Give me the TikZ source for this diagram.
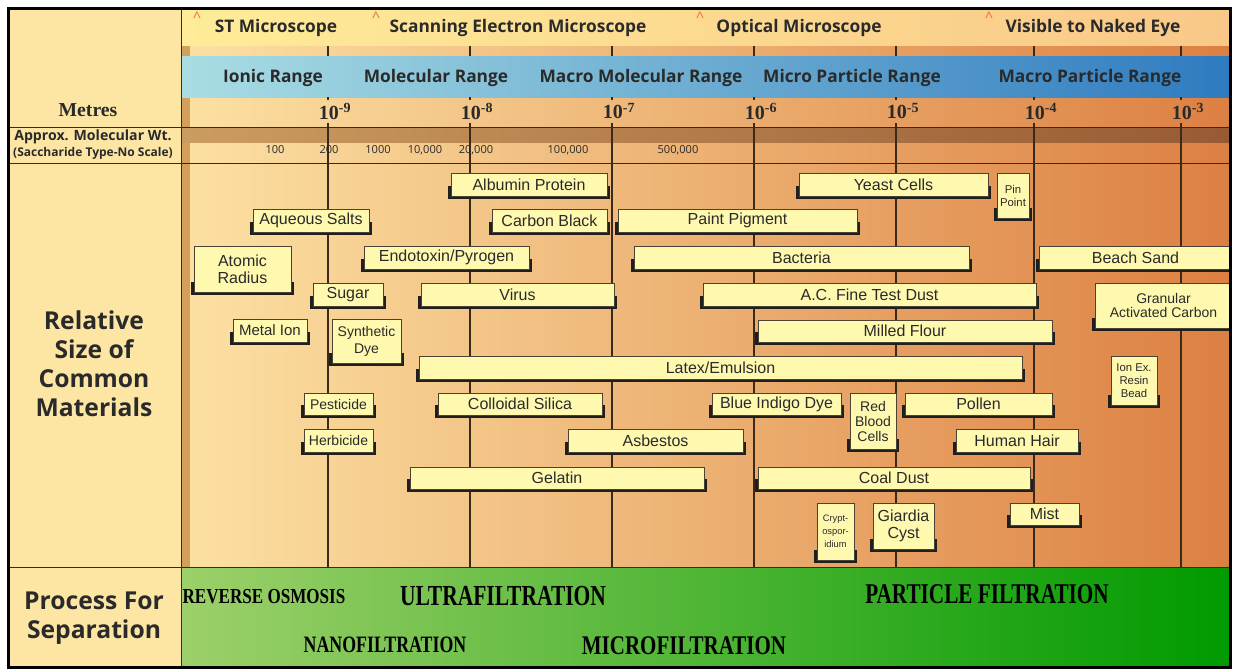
\documentclass[tikz,border=0pt]{standalone}
\usepackage{fontspec}
\setmainfont{Liberation Sans}
\newfontfamily\gill{Open Sans}
\newfontfamily\tms{Liberation Serif}
\definecolor{colbg}{HTML}{FDE6A3}
\definecolor{hdrL}{HTML}{FEEC98}
\definecolor{hdrR}{HTML}{F9C888}
\definecolor{tanL}{HTML}{FCE1A3}
\definecolor{tanM}{HTML}{F1BC7E}
\definecolor{tanR}{HTML}{DC8042}
\definecolor{strip}{HTML}{D2A05C}
\definecolor{blueL}{HTML}{A9DDE3}
\definecolor{blueR}{HTML}{2F7BC0}
\definecolor{brnL}{HTML}{CB9C60}
\definecolor{brnR}{HTML}{985A34}
\definecolor{grnL}{HTML}{9DD06A}
\definecolor{grnM}{HTML}{48AE3C}
\definecolor{grnR}{HTML}{009A00}
\definecolor{boxfill}{HTML}{FFF9B0}
\definecolor{boxline}{HTML}{4A4232}
\definecolor{txt}{HTML}{2A2A2A}
\definecolor{tick}{HTML}{3A2A1A}
\definecolor{caret}{HTML}{E8703A}
\newcommand\fs[2]{\fontsize{#1}{#2}\selectfont}
\newcommand\matbox[7][\fs{12}{12.75}]{%
  \fill[shadowbox] ({#3-3},{#6-10}) rectangle ({#5+3},{#6+3});
  \node[matnode, font=#1, minimum width={(#5-#3)*0.75pt}, minimum height={(#6-#4)*0.75pt}] (#2) at ({(#3+#5)/2},{(#4+#6)/2}) {#7};
}
\begin{document}
\begin{tikzpicture}[x=0.75pt,y=-0.75pt,
  shadowbox/.style={fill=black!88},
  matnode/.style={draw=boxline, line width=0.6pt, fill=boxfill, inner sep=0pt, align=center, text=txt},
  hdrtext/.style={font=\gill\bfseries\fs{13}{14}, text=txt, inner sep=0pt},
  crt/.style={font=\gill\fs{11}{11}, text=caret, inner sep=0pt},
  expo/.style={font=\tms\bfseries\fs{15}{16}, text=txt, inner sep=0pt},
  molwt/.style={font=\gill\fs{8.3}{9}, text=txt, inner sep=0pt},
  sidelab/.style={font=\gill\bfseries\fs{18.5}{21.75}, text=txt, align=center, inner sep=0pt},
  proc/.style={font=\tms\bfseries, text=black, inner sep=0pt},
  rule/.style={draw=tick, line width=0.75pt},
  ticks/.style={draw=tick, line width=0.8pt}
]
\useasboundingbox (0,0) rectangle (1235,669);
% backgrounds
\fill[colbg] (8,8) rectangle (181,667);
\fill[left color=hdrL, right color=hdrR] (181,8) rectangle (1230,46);
\fill[left color=tanL, middle color=tanM, right color=tanR] (181,46) rectangle (1230,567);
\fill[strip] (181,46) rectangle (190,567);
\fill[left color=blueL, right color=blueR] (181,56) rectangle (1230,97);
\fill[left color=brnL, right color=brnR] (181,127) rectangle (1230,142);
\fill[left color=grnL, middle color=grnM, right color=grnR] (181,567) rectangle (1230,667);
% rules
\draw[rule] (8,127) -- (1230,127);
\draw[rule] (8,163) -- (1230,163);
\draw[rule] (8,567) -- (1230,567);
\draw[rule] (181,8) -- (181,667);
% decade ticks and labels
\foreach \x/\e in {328/9,470/8,612/7,754/6,896/5,1034/4,1181/3}{
  \draw[ticks] (\x,46) -- (\x,56);
  \draw[ticks] (\x,97) -- (\x,100);
  \draw[ticks] (\x,123) -- (\x,567);
  \node[expo] (e\e) at (\x+7,111) {10\textsuperscript{-\e}};
}
% microscope header
\node[crt] (c1) at (197,17) {\textasciicircum};
\node[crt] (c2) at (376,17) {\textasciicircum};
\node[crt] (c3) at (700,17) {\textasciicircum};
\node[crt] (c4) at (989,17) {\textasciicircum};
\node[hdrtext] (st) at (276,27.5) {ST Microscope};
\node[hdrtext] (sem) at (518,27.5) {Scanning Electron Microscope};
\node[hdrtext] (opt) at (799,27.5) {Optical Microscope};
\node[hdrtext] (eye) at (1093,27.5) {Visible to Naked Eye};
% ranges
\node[hdrtext] (r1) at (273,77.5) {Ionic Range};
\node[hdrtext] (r2) at (436,77.5) {Molecular Range};
\node[hdrtext] (r3) at (641,77.5) {Macro Molecular Range};
\node[hdrtext] (r4) at (852,77.5) {Micro Particle Range};
\node[hdrtext] (r5) at (1090,77.5) {Macro Particle Range};
% left column
\node[font=\tms\bfseries\fs{14.8}{15}, text=txt, inner sep=0pt] (metres) at (88,110) {Metres};
\node[font=\gill\bfseries\fs{10.6}{11}, text=txt, inner sep=0pt] (approx) at (93,137) {Approx. Molecular Wt.};
\node[font=\gill\bfseries\fs{9}{9}, text=txt, inner sep=0pt] (sacch) at (93,153) {(Saccharide Type-No Scale)};
\node[sidelab] (relsize) at (94,364) {Relative\\Size of\\Common\\Materials};
\node[sidelab] (process) at (94,618) {Process For\\Separation};
% molecular weights
\node[molwt] (m1) at (275,150) {100};
\node[molwt] (m2) at (329,150) {200};
\node[molwt] (m3) at (378,150) {1000};
\node[molwt] (m4) at (425,150) {10,000};
\node[molwt] (m5) at (476,150) {20,000};
\node[molwt] (m6) at (568,150) {100,000};
\node[molwt] (m7) at (678,150) {500,000};
% processes
\node[proc] (ro) at (264,597) {\scalebox{0.8}[1]{\fs{16}{16}REVERSE OSMOSIS}};
\node[proc] (uf) at (503,596) {\scalebox{0.74}[1]{\fs{21.8}{22}ULTRAFILTRATION}};
\node[proc] (pf) at (987,594) {\scalebox{0.74}[1]{\fs{21.5}{22}PARTICLE FILTRATION}};
\node[proc] (nf) at (385,645) {\scalebox{0.76}[1]{\fs{17.6}{18}NANOFILTRATION}};
\node[proc] (mf) at (684,646) {\scalebox{0.78}[1]{\fs{20.2}{21}MICROFILTRATION}};
% material boxes
\matbox{albumin}{451}{173}{607}{196}{Albumin Protein}
\matbox{yeast}{799}{173}{988}{196}{Yeast Cells}
\matbox[\fs{8.5}{9.75}]{pin}{997}{173}{1029}{218}{Pin\\Point}
\matbox{aqueous}{253}{209}{369}{232}{Aqueous Salts}
\matbox{carbon}{492}{209}{607}{232}{Carbon Black}
\matbox{paint}{618}{209}{857}{232}{Paint Pigment}
\matbox{atomic}{194}{246}{291}{292}{Atomic\\Radius}
\matbox{endo}{364}{246}{529}{269}{Endotoxin/Pyrogen}
\matbox{bacteria}{634}{246}{969}{269}{Bacteria}
\matbox{beach}{1039}{246}{1232}{269}{Beach Sand}
\matbox{sugar}{313}{283}{383}{306}{Sugar}
\matbox{virus}{421}{283}{614}{306}{Virus}
\matbox{acdust}{703}{283}{1036}{306}{A.C. Fine Test Dust}
\matbox[\fs{10.5}{10.5}]{gac}{1095}{283}{1232}{328}{Granular\\Activated Carbon}
\matbox[\fs{11.25}{12}]{metal}{233}{319}{307}{342}{Metal Ion}
\matbox[\fs{10.5}{12.75}]{synth}{332}{319}{401}{363}{Synthetic\\Dye}
\matbox{flour}{758}{320}{1052}{342}{Milled Flour}
\matbox{latex}{419}{356}{1022}{379}{Latex/Emulsion}
\matbox[\fs{8.5}{9.75}]{ionex}{1111}{356}{1157}{405}{Ion Ex.\\Resin\\Bead}
\matbox[\fs{10.5}{12}]{pest}{304}{393}{373}{415}{Pesticide}
\matbox{colloid}{438}{393}{602}{415}{Colloidal Silica}
\matbox{indigo}{712}{393}{841}{415}{Blue Indigo Dye}
\matbox[\fs{10.5}{11.25}]{rbc}{850}{393}{896}{449}{Red\\Blood\\Cells}
\matbox{pollen}{905}{393}{1052}{415}{Pollen}
\matbox[\fs{10.5}{12}]{herb}{304}{429}{373}{452}{Herbicide}
\matbox{asbestos}{568}{429}{743}{452}{Asbestos}
\matbox{hair}{956}{429}{1078}{452}{Human Hair}
\matbox{gelatin}{410}{467}{704}{489}{Gelatin}
\matbox{coal}{758}{467}{1030}{489}{Coal Dust}
\matbox[\fs{7}{9.75}]{crypt}{817}{503}{854}{560}{Crypt-\\ospor-\\idium}
\matbox{giardia}{873}{503}{934}{549}{Giardia\\Cyst}
\matbox{mist}{1010}{503}{1079}{525}{Mist}
% outer border
\fill[white] (1231.5,0) rectangle (1235,669);
\draw[black, line width=2.25pt] (8,8) rectangle (1230,667);
\end{tikzpicture}
\end{document}
